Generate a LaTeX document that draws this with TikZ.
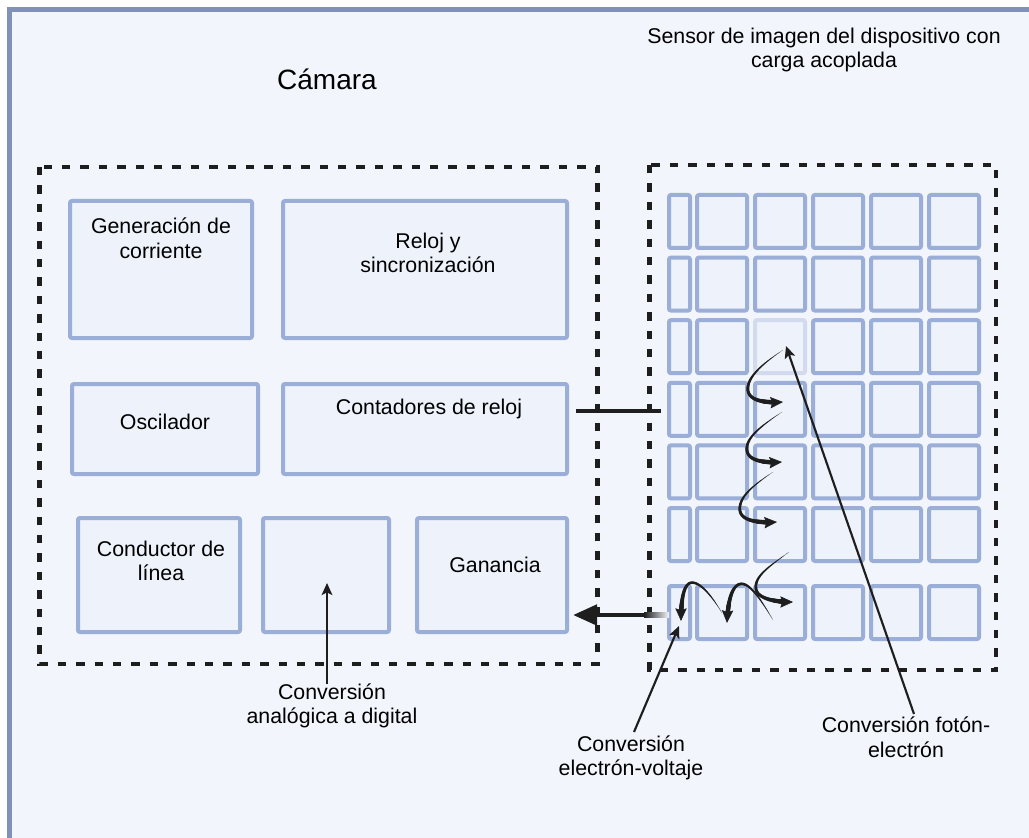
\documentclass[tikz,border=0pt]{standalone}
\usepackage{fontspec}
\setmainfont{Liberation Sans}
\usetikzlibrary{arrows.meta,decorations.markings,fit}
\definecolor{bgc}{HTML}{F2F5FB}
\definecolor{framec}{HTML}{8291B8}
\definecolor{boxline}{HTML}{9AAED8}
\definecolor{boxfill}{HTML}{EDF2FB}
\definecolor{ink}{HTML}{1E1E1E}
\begin{document}
\begin{tikzpicture}[x=0.75pt,y=-0.75pt,
  comp/.style={draw=boxline, fill=boxfill, line width=3pt, rounded corners=1.5pt, inner sep=0pt},
  cellbox/.style={draw=boxline, fill=boxfill, line width=3pt, rounded corners=1.5pt, inner sep=0pt},
  dashbox/.style={draw=ink, line width=3.2pt, dash pattern=on 6.3pt off 7.5pt},
  lbl/.style={font=\fontsize{16}{18.5}\selectfont, align=center, inner sep=0pt, text=black},
  thinarrow/.style={draw=ink, line width=1.6pt, -{Stealth[length=9pt,width=8pt,inset=2pt]}},
  taper/.style={decoration={markings,
      mark=between positions 0 and 0.9 step 0.35pt with {%
        \pgfmathsetmacro\tr{0.12+1.75*(\pgfkeysvalueof{/pgf/decoration/mark info/distance from start})/(\pgfdecoratedpathlength)}%
        \fill[ink] (0,0) circle (\tr pt);},
      mark=at position 1 with {\arrow[ink]{Stealth[length=9.5pt,width=8.5pt,inset=1.5pt]}}},
    postaction={decorate}}
]
\useasboundingbox (0,0) rectangle (1029,838);
\clip (0,0) rectangle (1029,838);
\fill[white] (0,0) rectangle (1029,838);
% outer frame
\draw[framec, line width=3.2pt, fill=bgc] (9.5,9.5) rectangle (1100,900);

% titles
\node[lbl, font=\fontsize{21}{24}\selectfont, anchor=base] (cam) at (327,90) {Cámara};
\node[lbl] (sens) at (824,50) {Sensor de imagen del dispositivo con\\carga acoplada};

% camera dashed box
\draw[dashbox] (39.5,167) rectangle (597.5,664);
% sensor dashed box
\draw[dashbox] (649.5,165) rectangle (996,670);

% components
\node[comp, fit={(70,201) (252,338)}] (gen) {};
\node[comp, fit={(283,201) (567,338)}] (rel) {};
\node[comp, fit={(72,384) (258,474)}] (osc) {};
\node[comp, fit={(283,384) (567,474)}] (cont) {};
\node[comp, fit={(78,518) (240,632)}] (cond) {};
\node[comp, fit={(263,518) (389,632)}] (adc) {};
\node[comp, fit={(417,518) (567,632)}] (gan) {};

\node[lbl] (gen-t) at (161,238) {Generación de\\corriente};
\node[lbl] (rel-t) at (428,253) {Reloj y\\sincronización};
\node[lbl] (osc-t) at (165,422) {Oscilador};
\node[lbl] (cont-t) at (429,409) {Contadores de reloj};
\node[lbl] (cond-t) at (161,561) {Conductor de\\línea};
\node[lbl] (gan-t) at (495,565) {Ganancia};

% sensor cells
\foreach \r/\y in {0/193,1/255.6,2/318.2,3/380.8,4/443.4,5/506,6/584}{
  \node[cellbox, fit={(669,\y+2) (690,\y+55)}] (c-\r-0) {};
  \foreach \c/\x in {1/695,2/753,3/811,4/869,5/927}{
    \ifnum\r=2 \ifnum\c=2
      \node[cellbox, draw=boxline!45, fit={(\x+2,\y+2) (\x+52,\y+55)}] (c-\r-\c) {};
    \else
      \node[cellbox, fit={(\x+2,\y+2) (\x+52,\y+55)}] (c-\r-\c) {};
    \fi\else
      \node[cellbox, fit={(\x+2,\y+2) (\x+52,\y+55)}] (c-\r-\c) {};
    \fi
  }
}

% bottom labels
\node[lbl] (adcl) at (332,706) {Conversión\\analógica a digital};
\node[lbl] (evl) at (631,758) {Conversión\\electrón-voltaje};
\node[lbl] (fel) at (906,737) {Conversión fotón-\\electrón};

% connectors
\coordinate (h1) at (576,411);
\coordinate (h2) at (661,411);
\draw[ink, line width=2.8pt] (h1) -- (h2);

\coordinate (g1) at (645,615);
\coordinate (g2) at (573,615);
\draw[ink, line width=3.6pt, -{Triangle[length=18pt,width=15pt]}] (g1) -- (g2);
\shade[left color=ink, right color=bgc!80!white] (644,612.6) rectangle (669,617.4);

\coordinate (a1) at (327,684);
\coordinate (a2) at (327,583);
\draw[thinarrow] (a1) -- (a2);

\coordinate (e1) at (634,732);
\coordinate (e2) at (679,626);
\draw[thinarrow] (e1) -- (e2);

\coordinate (f1) at (914,714);
\coordinate (f2) at (786,346);
\draw[thinarrow] (f1) -- (f2);

% charge transfer curves
\path[taper] (783,350) .. controls (762,364) and (746,378) .. (748,391) .. controls (750,401) and (765,403) .. (783,402);
\path[taper] (782,412) .. controls (761,426) and (745,438) .. (747,451) .. controls (749,461) and (764,463) .. (782,462);
\path[taper] (773,472) .. controls (752,486) and (738,498) .. (740,511) .. controls (742,521) and (758,523) .. (777,522);
\path[taper] (789,552) .. controls (770,566) and (754,576) .. (756,589) .. controls (758,599) and (775,602) .. (793,602);
\path[taper] (773,620) .. controls (760,598) and (749,582) .. (740,584) .. controls (732,586) and (728,600) .. (727,623);
\path[taper] (722,613) .. controls (712,596) and (699,580) .. (690,583) .. controls (683,586) and (681,602) .. (681,621);
\end{tikzpicture}
\end{document}
